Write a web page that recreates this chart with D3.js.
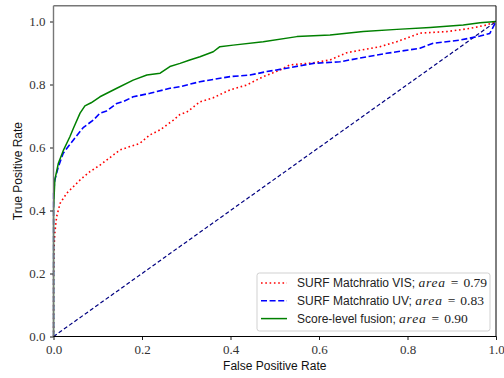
<!DOCTYPE html>
<html>
<head>
<meta charset="utf-8">
<script src="https://cdn.jsdelivr.net/npm/d3@7"></script>
<style>
  html, body { margin: 0; padding: 0; background: #fff; }
  svg { display: block; }
</style>
</head>
<body>
<svg id="chart" width="504" height="378"></svg>
<script>
// ROC curves: [false positive rate, true positive rate]
const visRoc = [
  [0,0],[0,0.19],[0.001,0.275],[0.003,0.328],[0.007,0.38],[0.015,0.423],[0.03,0.455],
  [0.045,0.476],[0.06,0.497],[0.082,0.523],[0.105,0.544],[0.135,0.576],[0.15,0.592],
  [0.173,0.603],[0.195,0.613],[0.218,0.64],[0.241,0.656],[0.271,0.687],[0.286,0.705],
  [0.301,0.712],[0.331,0.745],[0.361,0.758],[0.399,0.783],[0.436,0.798],[0.474,0.825],
  [0.512,0.846],[0.534,0.862],[0.587,0.869],[0.625,0.878],[0.663,0.901],[0.738,0.92],
  [0.776,0.936],[0.828,0.963],[0.889,0.968],[0.941,0.978],[0.979,0.989],[1,1]
];
const uvRoc = [
  [0,0],[0,0.455],[0.003,0.497],[0.011,0.539],[0.022,0.582],[0.045,0.624],[0.067,0.663],
  [0.09,0.687],[0.105,0.709],[0.12,0.716],[0.143,0.74],[0.158,0.746],[0.18,0.761],
  [0.218,0.772],[0.263,0.788],[0.286,0.793],[0.331,0.809],[0.399,0.825],[0.444,0.83],
  [0.482,0.841],[0.512,0.848],[0.587,0.867],[0.647,0.872],[0.708,0.888],[0.753,0.899],
  [0.828,0.915],[0.858,0.931],[0.919,0.941],[0.964,0.954],[0.986,0.962],[1,1]
];
const fusionRoc = [
  [0,0],[0,0.40],[0.003,0.497],[0.011,0.55],[0.022,0.59],[0.037,0.634],[0.045,0.661],
  [0.06,0.709],[0.071,0.732],[0.085,0.742],[0.105,0.761],[0.143,0.788],[0.18,0.814],
  [0.211,0.83],[0.241,0.836],[0.263,0.857],[0.286,0.867],[0.308,0.878],[0.331,0.888],
  [0.361,0.904],[0.376,0.92],[0.406,0.925],[0.474,0.936],[0.55,0.952],[0.625,0.957],
  [0.70,0.968],[0.776,0.975],[0.851,0.981],[0.926,0.989],[0.964,0.996],[1,1]
];
const chanceLine = [[0,0],[1,1]];

const seriesNames = ["SURF Matchratio VIS; ", "SURF Matchratio UV; ", "Score-level fusion; "];
const seriesAreas = ["0.79", "0.83", "0.90"];
const xTicks = [0, 0.2, 0.4, 0.6, 0.8, 1.0];
const yTicks = [0, 0.2, 0.4, 0.6, 0.8, 1.0];

const svg = d3.select("#chart");
const x = d3.scaleLinear().domain([0, 1]).range([53.5, 496]);
const y = d3.scaleLinear().domain([0, 1]).range([336.5, 21.5]);
const yTop = y(1.05);

const serif = "'Liberation Serif', 'DejaVu Serif', serif";
const sans = "'Liberation Sans', Arial, sans-serif";

const line = d3.line().x(d => x(d[0])).y(d => y(d[1]));

const styles = [
  { data: chanceLine, color: "#000080", width: 1.2, dash: "4,2.4" },
  { data: visRoc, color: "#ff0000", width: 1.6, dash: "1.6,2.7" },
  { data: uvRoc, color: "#0000ff", width: 1.6, dash: "6,2.6" },
  { data: fusionRoc, color: "#008000", width: 1.5, dash: null }
];

svg.append("defs").append("clipPath").attr("id", "plotclip")
  .append("rect").attr("x", x(0) - 1).attr("y", yTop - 1)
  .attr("width", x(1) - x(0) + 2).attr("height", y(0) - yTop + 2);

const plot = svg.append("g").attr("clip-path", "url(#plotclip)");
styles.forEach(s => {
  plot.append("path").datum(s.data)
    .attr("d", line).attr("fill", "none")
    .attr("stroke", s.color).attr("stroke-width", s.width)
    .attr("stroke-dasharray", s.dash)
    .attr("stroke-linejoin", "round");
});

// Axes
const xAxis = d3.axisBottom(x).tickValues(xTicks).tickFormat(d3.format(".1f"))
  .tickSizeOuter(0).tickSizeInner(3.5).tickPadding(5);
const gx = svg.append("g").attr("transform", `translate(0,${y(0)})`).call(xAxis);
gx.select(".domain").remove();
gx.selectAll("text").attr("font-family", serif).attr("font-size", 13).attr("fill", "#333");
gx.selectAll("line").attr("stroke", "#000").attr("stroke-width", 0.9);

const yAxis = d3.axisLeft(y).tickValues(yTicks).tickFormat(d3.format(".1f"))
  .tickSizeOuter(0).tickSizeInner(3.5).tickPadding(4.5);
const gy = svg.append("g").attr("transform", `translate(${x(0)},0)`).call(yAxis);
gy.select(".domain").remove();
gy.selectAll("text").attr("font-family", serif).attr("font-size", 13).attr("fill", "#333");
gy.selectAll("line").attr("stroke", "#000").attr("stroke-width", 0.9);

// Frame
svg.append("line").attr("x1", x(0)).attr("x2", x(0)).attr("y1", yTop).attr("y2", y(0))
  .attr("stroke", "#777").attr("stroke-width", 1.4);
svg.append("line").attr("x1", x(0)).attr("x2", x(1)).attr("y1", yTop).attr("y2", yTop)
  .attr("stroke", "#777").attr("stroke-width", 1.4);
svg.append("line").attr("x1", x(0)).attr("x2", x(1) + 0.5).attr("y1", y(0)).attr("y2", y(0))
  .attr("stroke", "#000").attr("stroke-width", 1);
svg.append("line").attr("x1", x(1)).attr("x2", x(1)).attr("y1", yTop).attr("y2", y(0))
  .attr("stroke", "#000").attr("stroke-width", 1);

// Axis titles
svg.append("text").attr("x", (x(0) + x(1)) / 2).attr("y", 370)
  .attr("text-anchor", "middle").attr("font-family", sans).attr("font-size", 12)
  .attr("fill", "#111").text("False Positive Rate");
svg.append("text").attr("transform", `translate(21.5,${(yTop + y(0)) / 2}) rotate(-90)`)
  .attr("text-anchor", "middle").attr("font-family", sans).attr("font-size", 12)
  .attr("fill", "#111").text("True Positive Rate");

// Legend
const lg = svg.append("g");
lg.append("rect").attr("x", 257).attr("y", 273).attr("width", 233).attr("height", 58)
  .attr("rx", 2.5).attr("fill", "#fff").attr("fill-opacity", 0.85)
  .attr("stroke", "#cccccc").attr("stroke-width", 0.9);
const legendRows = [styles[1], styles[2], styles[3]];
legendRows.forEach((s, i) => {
  const cy = 283 + i * 17.8;
  lg.append("line").attr("x1", 261).attr("x2", 287).attr("y1", cy).attr("y2", cy)
    .attr("stroke", s.color).attr("stroke-width", s.width).attr("stroke-dasharray", s.dash);
  const t = lg.append("text").attr("x", 297).attr("y", cy + 4.3).attr("fill", "#222");
  t.append("tspan").attr("font-family", sans).attr("font-size", 12).text(seriesNames[i]);
  t.append("tspan").attr("font-family", serif).attr("font-size", 13.5)
    .attr("font-style", "italic").attr("letter-spacing", 0.8).text("area");
  t.append("tspan").attr("font-family", serif).attr("font-size", 13.5)
    .attr("dx", 5).text("=");
  t.append("tspan").attr("font-family", serif).attr("font-size", 13.5)
    .attr("dx", 5).text(seriesAreas[i]);
});
</script>
</body>
</html>
